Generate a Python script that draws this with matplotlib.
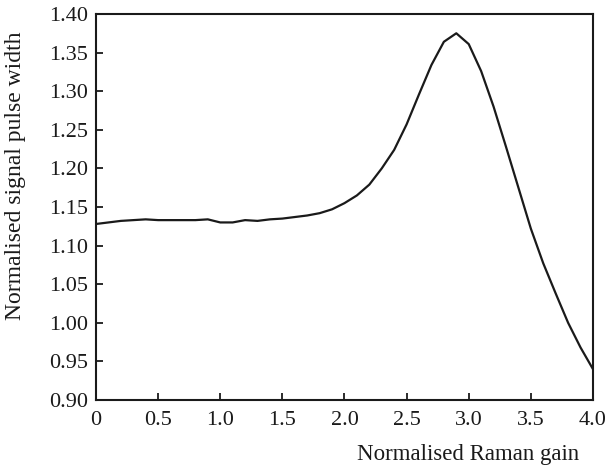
import numpy as np
import matplotlib
matplotlib.use('Agg')
import matplotlib.pyplot as plt

plt.rcParams['font.family'] = ['Liberation Serif', 'DejaVu Serif']

# normalised Raman gain vs normalised signal pulse width
gain = [0.0, 0.1, 0.2, 0.3, 0.4, 0.5, 0.6, 0.7, 0.8, 0.9,
        1.0, 1.1, 1.2, 1.3, 1.4, 1.5, 1.6, 1.7, 1.8, 1.9,
        2.0, 2.1, 2.2, 2.3, 2.4, 2.5, 2.6, 2.7, 2.8, 2.9,
        3.0, 3.1, 3.2, 3.3, 3.4, 3.5, 3.6, 3.7, 3.8, 3.9, 4.0]
width = [1.128, 1.130, 1.132, 1.133, 1.134, 1.133, 1.133, 1.133, 1.133, 1.134,
         1.130, 1.130, 1.133, 1.132, 1.134, 1.135, 1.137, 1.139, 1.142, 1.147,
         1.155, 1.165, 1.179, 1.200, 1.224, 1.257, 1.296, 1.334, 1.364, 1.375,
         1.361, 1.326, 1.280, 1.228, 1.175, 1.122, 1.077, 1.038, 1.000, 0.968, 0.940]

xticks = [0, 0.5, 1.0, 1.5, 2.0, 2.5, 3.0, 3.5, 4.0]
xtick_labels = ['0', '0.5', '1.0', '1.5', '2.0', '2.5', '3.0', '3.5', '4.0']
yticks = [0.90, 0.95, 1.00, 1.05, 1.10, 1.15, 1.20, 1.25, 1.30, 1.35, 1.40]

fig = plt.figure(figsize=(6.06, 4.66), dpi=100)
ax = fig.add_axes([0.1584, 0.1416, 0.8201, 0.8284])

ax.plot(gain, width, color='#1a1a1a', lw=1.6)

ax.set_xlim(0, 4)
ax.set_ylim(0.90, 1.40)
ax.set_xticks(xticks)
ax.set_xticklabels(xtick_labels)
ax.set_yticks(yticks)
ax.set_yticklabels([f'{v:.2f}' for v in yticks])

ax.tick_params(direction='in', length=5, width=1.3, labelsize=16, pad=6,
               colors='#1a1a1a', top=False, right=False)
ax.tick_params(axis='x', pad=8)
for s in ax.spines.values():
    s.set_linewidth(1.5)
    s.set_color('#1a1a1a')

ax.set_xlabel('Normalised Raman gain', fontsize=16.5, color='#1a1a1a')
ax.xaxis.set_label_coords(0.749, -0.113)
ax.set_ylabel('Normalised signal pulse width', fontsize=17, color='#1a1a1a')
ax.yaxis.set_label_coords(-0.141, 0.58)

fig.savefig('out.png', dpi=100)
